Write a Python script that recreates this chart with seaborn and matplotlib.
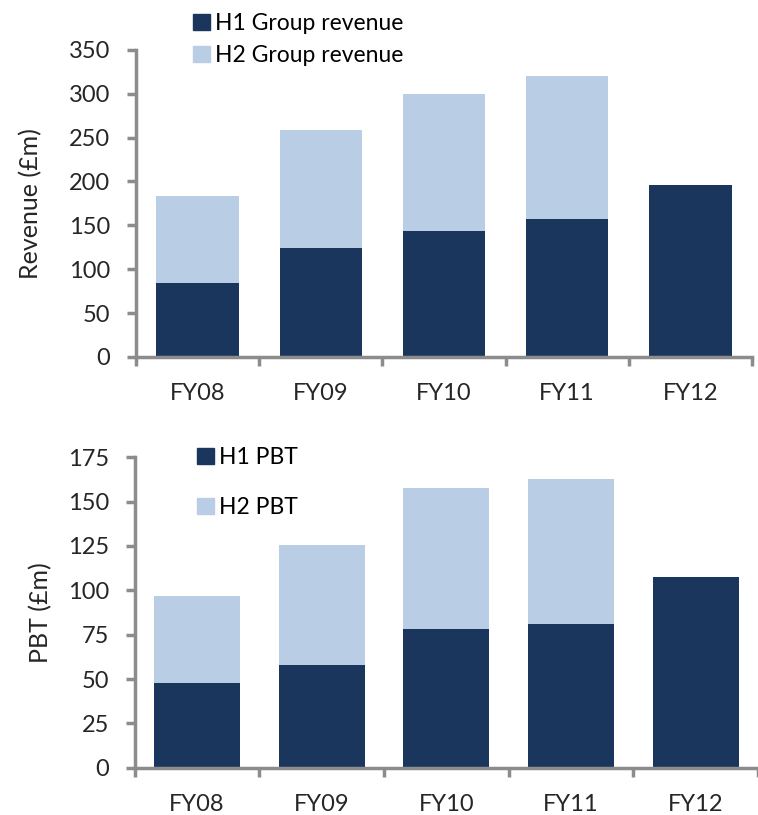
import numpy as np
import pandas as pd
import matplotlib
matplotlib.use("Agg")
import matplotlib.pyplot as plt
import seaborn as sns
from matplotlib.patches import Patch

# Half-year figures (£m); FY12 second half not yet reported
years = ["FY08", "FY09", "FY10", "FY11", "FY12"]
rev_h1 = [84, 124, 144, 157, 196]
rev_h2 = [99, 134, 155, 163, 0]
pbt_h1 = [48, 58, 78, 81, 107.5]
pbt_h2 = [49, 67.5, 79.5, 82, 0]

DARK = "#1b365d"
LIGHT = "#b9cde4"
AXIS = "#8c8c8c"
FS = 17

sns.set_theme(style="white")
plt.rcParams["font.family"] = ["Lato", "DejaVu Sans"]
plt.rcParams["text.color"] = "#000000"

fig = plt.figure(figsize=(7.58, 8.15), dpi=100)
ax1 = fig.add_axes([0.1794, 0.562, 0.8126, 0.377])
ax2 = fig.add_axes([0.1777, 0.058, 0.8223, 0.381])


def draw(ax, h1, h2, width, ymax, step, ylabel, labelpad):
    df = pd.DataFrame({"year": years, "h1": h1, "total": np.add(h1, h2)})
    sns.barplot(data=df, x="year", y="total", color=LIGHT, width=width,
                saturation=1, ax=ax, linewidth=0)
    sns.barplot(data=df, x="year", y="h1", color=DARK, width=width,
                saturation=1, ax=ax, linewidth=0)
    ax.set_xlim(-0.5, 4.5)
    ax.set_ylim(0, ymax)
    ax.set_yticks(np.arange(0, ymax + 0.1, step))
    ax.set_xticks(range(len(years)))
    ax.set_xticklabels(years)
    ax.set_xticks(np.arange(-0.5, 4.6, 1.0), minor=True)
    for side in ("top", "right"):
        ax.spines[side].set_visible(False)
    for side in ("left", "bottom"):
        ax.spines[side].set_color(AXIS)
        ax.spines[side].set_linewidth(2.5)
    ax.tick_params(axis="x", which="major", length=0, pad=19, labelsize=FS)
    ax.tick_params(axis="x", which="minor", length=6.5, width=2.5,
                   color=AXIS, direction="out", bottom=True)
    ax.tick_params(axis="y", length=6.5, width=2.5, color=AXIS,
                   direction="out", left=True, labelsize=FS, pad=12)
    ax.set_xlabel("")
    ax.set_ylabel(ylabel, fontsize=18, labelpad=labelpad)


draw(ax1, rev_h1, rev_h2, 0.67, 350, 50, "Revenue (£m)", 19)
draw(ax2, pbt_h1, pbt_h2, 0.69, 175, 25, "PBT (£m)", 11)

fig.legend(handles=[Patch(color=DARK, label="H1 Group revenue"),
                    Patch(color=LIGHT, label="H2 Group revenue")],
           loc="upper left", bbox_to_anchor=(193 / 758, 1 - 13 / 815),
           frameon=False, fontsize=16.5, handlelength=0.72, handleheight=0.7,
           handletextpad=0.25, labelspacing=0.5, borderpad=0, borderaxespad=0)
fig.legend(handles=[Patch(color=DARK, label="H1 PBT"),
                    Patch(color=LIGHT, label="H2 PBT")],
           loc="upper left", bbox_to_anchor=(197 / 758, 1 - 447 / 815),
           frameon=False, fontsize=16.5, handlelength=0.72, handleheight=0.7,
           handletextpad=0.25, labelspacing=1.25, borderpad=0, borderaxespad=0)

fig.savefig("out.png", dpi=100)
